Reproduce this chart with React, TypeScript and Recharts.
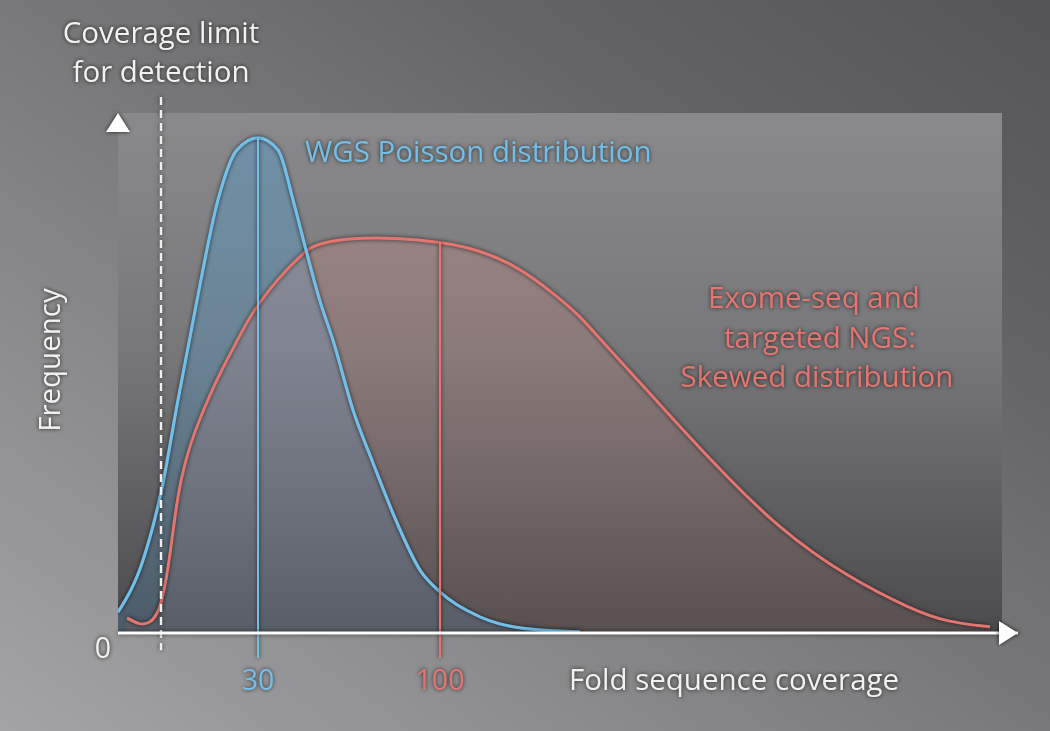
import {
  Area,
  ComposedChart,
  Line,
  ReferenceArea,
  ReferenceDot,
  ReferenceLine,
  XAxis,
  YAxis,
} from 'recharts'

// positions along the drawn coverage axis (not linear in fold coverage)
const wgsPositions = [0, 5, 8.6, 12, 15.8, 20, 23.8, 28, 32, 35, 37.4, 40.4, 43, 47, 51, 55.8, 60.4, 64.4, 72.4, 80.4, 92.4]
const wgsFrequency = [4, 14, 27, 44.8, 64, 83.3, 92.9, 95.2, 92.9, 83.3, 74.4, 63.8, 56.3, 42.9, 32.7, 21.2, 12.1, 7.9, 3.1, 1.0, 0.2]

const exomePositions = [1.8, 4.4, 6.4, 7.8, 8.8, 9.6, 10.4, 11.4, 12.6, 14.4, 16.4, 18.4, 20.4, 23.4, 26.4, 30.4, 34.4, 37.4, 39, 45.8, 55.8, 64.4, 72.4, 80.4, 87, 92.4, 96.4, 105.8, 119, 132.4, 145.8, 159, 165.8, 174.4]
const exomeFrequency = [2.9, 1.5, 1.9, 3.5, 6.3, 10.2, 15, 22.7, 29.8, 36.2, 41.3, 45.8, 50, 55.4, 61, 66.3, 70.6, 73.3, 74.6, 76, 76, 75.2, 73.7, 70.2, 65.4, 61, 56.5, 46.7, 32.7, 19.8, 10.8, 4.4, 2.1, 1.2]

const tickPositions = [0, 28, 64.4]
const tickLabels = ['0', '30', '100']

const detectionLimit = 8.6
const axisMaxX = 180
const axisMaxY = 100

const BLUE = '#72c0ea'
const RED = '#e4756f'

type Row = { x: number; wgs?: number; exome?: number }

function buildRows(): Row[] {
  const map = new Map<number, Row>()
  wgsPositions.forEach((x, i) => {
    const row = map.get(x) ?? { x }
    row.wgs = wgsFrequency[i]
    map.set(x, row)
  })
  exomePositions.forEach((x, i) => {
    const row = map.get(x) ?? { x }
    row.exome = exomeFrequency[i]
    map.set(x, row)
  })
  return Array.from(map.values()).sort((a, b) => a.x - b.x)
}

const rows = buildRows()
const wgsPeak = Math.max(...wgsFrequency)
const wgsPeakPos = wgsPositions[wgsFrequency.indexOf(wgsPeak)]
const exomeAt100 = exomeFrequency[exomePositions.indexOf(tickPositions[2])]

const tickColors = ['#f2f2f2', BLUE, RED]

function CoverageTick(props: any) {
  const { x, y, payload, index } = props
  const label = tickLabels[index] ?? String(payload.value)
  if (index === 0) {
    return (
      <text x={x - 15} y={y + 25} textAnchor="middle" fill={tickColors[0]} fontSize={28.5} className="glow">
        {label}
      </text>
    )
  }
  return (
    <text x={x} y={y + 57} textAnchor="middle" fill={tickColors[index]} fontSize={28.5} className="glow">
      {label}
    </text>
  )
}

function UpArrow(props: any) {
  const { cx, cy } = props
  return <path d={`M${cx},${cy} L${cx + 12},${cy + 19} L${cx - 12},${cy + 19} Z`} fill="#ffffff" className="glow" />
}

function RightArrow(props: any) {
  const { cx, cy } = props
  return <path d={`M${cx},${cy} L${cx - 19},${cy - 12} L${cx - 19},${cy + 12} Z`} fill="#ffffff" className="glow" />
}

export default function App() {
  return (
    <div
      style={{
        position: 'absolute',
        left: 0,
        top: 0,
        width: 1050,
        height: 731,
        overflow: 'hidden',
        fontFamily: '"Open Sans", sans-serif',
        background: 'linear-gradient(to top right, #a4a4a6 0%, #818183 40%, #636365 75%, #555557 100%)',
      }}
    >
      <style>{`
        .glow { filter: drop-shadow(0 0 2px rgba(0,0,0,0.75)); }
        .recharts-area-curve, .recharts-line-curve, .recharts-reference-line-line { filter: drop-shadow(0 0 2px rgba(0,0,0,0.7)); }
        .recharts-cartesian-axis-line { filter: drop-shadow(0 0 2px rgba(0,0,0,0.6)); }
      `}</style>
      <ComposedChart
        width={1050}
        height={731}
        data={rows}
        margin={{ top: 113, right: 32, bottom: 38, left: 118 }}
        style={{ fontFamily: '"Open Sans", sans-serif' }}
      >
        <defs>
          <linearGradient id="plotBg" x1="0" y1="0" x2="0" y2="1">
            <stop offset="0%" stopColor="#8a8a8c" />
            <stop offset="45%" stopColor="#78787a" />
            <stop offset="100%" stopColor="#4b4b4d" />
          </linearGradient>
          <linearGradient id="wgsFill" x1="0" y1="0" x2="0" y2="1">
            <stop offset="0%" stopColor="#4a9fd6" stopOpacity={0.62} />
            <stop offset="100%" stopColor="#4a9fd6" stopOpacity={0.3} />
          </linearGradient>
          <linearGradient id="exomeFill" x1="0" y1="0" x2="0" y2="1">
            <stop offset="0%" stopColor="#e08a80" stopOpacity={0.38} />
            <stop offset="100%" stopColor="#d07870" stopOpacity={0.16} />
          </linearGradient>
        </defs>
        <XAxis
          type="number"
          dataKey="x"
          domain={[0, axisMaxX]}
          ticks={tickPositions}
          tick={<CoverageTick />}
          tickLine={false}
          tickSize={0}
          tickMargin={0}
          height={60}
          axisLine={{ stroke: '#ffffff', strokeWidth: 3 }}
          allowDataOverflow
        />
        <YAxis
          type="number"
          domain={[0, axisMaxY]}
          width={0}
          tick={false}
          tickLine={false}
          axisLine={{ stroke: '#ffffff', strokeWidth: 3 }}
          allowDataOverflow
        />
        <ReferenceArea
          x1={0}
          x2={176.8}
          y1={0}
          y2={axisMaxY}
          fill="url(#plotBg)"
          fillOpacity={1}
          stroke="none"
        />
        <Area
          type="monotone"
          dataKey="wgs"
          stroke="none"
          fill="url(#wgsFill)"
          connectNulls
          isAnimationActive={false}
          dot={false}
          activeDot={false}
        />
        <Area
          type="basis"
          dataKey="exome"
          stroke={RED}
          strokeWidth={3}
          fill="url(#exomeFill)"
          connectNulls
          isAnimationActive={false}
          dot={false}
          activeDot={false}
        />
        <Line
          type="monotone"
          dataKey="wgs"
          stroke={BLUE}
          strokeWidth={3.2}
          connectNulls
          isAnimationActive={false}
          dot={false}
          activeDot={false}
        />
        <ReferenceLine
          segment={[{ x: wgsPeakPos, y: wgsPeak }, { x: wgsPeakPos, y: -4.8 }]}
          stroke={BLUE}
          strokeWidth={2}
          ifOverflow="visible"
        />
        <ReferenceLine
          segment={[{ x: tickPositions[2], y: exomeAt100 }, { x: tickPositions[2], y: -4.8 }]}
          stroke={RED}
          strokeWidth={2}
          ifOverflow="visible"
        />
        <ReferenceLine
          segment={[{ x: detectionLimit, y: 103.1 }, { x: detectionLimit, y: -3.3 }]}
          stroke="#eeeeee"
          strokeWidth={2.5}
          strokeDasharray="8 5"
          ifOverflow="visible"
        />
        <ReferenceDot x={0} y={axisMaxY} r={0} ifOverflow="visible" shape={<UpArrow />} />
        <ReferenceDot x={axisMaxX} y={0} r={0} ifOverflow="visible" shape={<RightArrow />} />
      </ComposedChart>
      <svg
        width={1050}
        height={731}
        style={{ position: 'absolute', left: 0, top: 0, pointerEvents: 'none', fontFamily: '"Open Sans", sans-serif' }}
      >
        <g fontSize={29.5} className="glow">
          <text x={161} y={43} textAnchor="middle" fill="#f2f2f2">Coverage limit</text>
          <text x={161} y={82} textAnchor="middle" fill="#f2f2f2">for detection</text>
          <text x={305} y={162} fill={BLUE}>WGS Poisson distribution</text>
          <text x={814} y={308} textAnchor="middle" fill={RED}>Exome-seq and</text>
          <text x={820} y={348} textAnchor="middle" fill={RED}>targeted NGS:</text>
          <text x={817} y={387} textAnchor="middle" fill={RED}>Skewed distribution</text>
          <text x={569} y={690} fill="#f2f2f2">Fold sequence coverage</text>
          <text x={0} y={0} transform="translate(60,360) rotate(-90)" textAnchor="middle" fill="#f2f2f2">Frequency</text>
        </g>
      </svg>
    </div>
  )
}
